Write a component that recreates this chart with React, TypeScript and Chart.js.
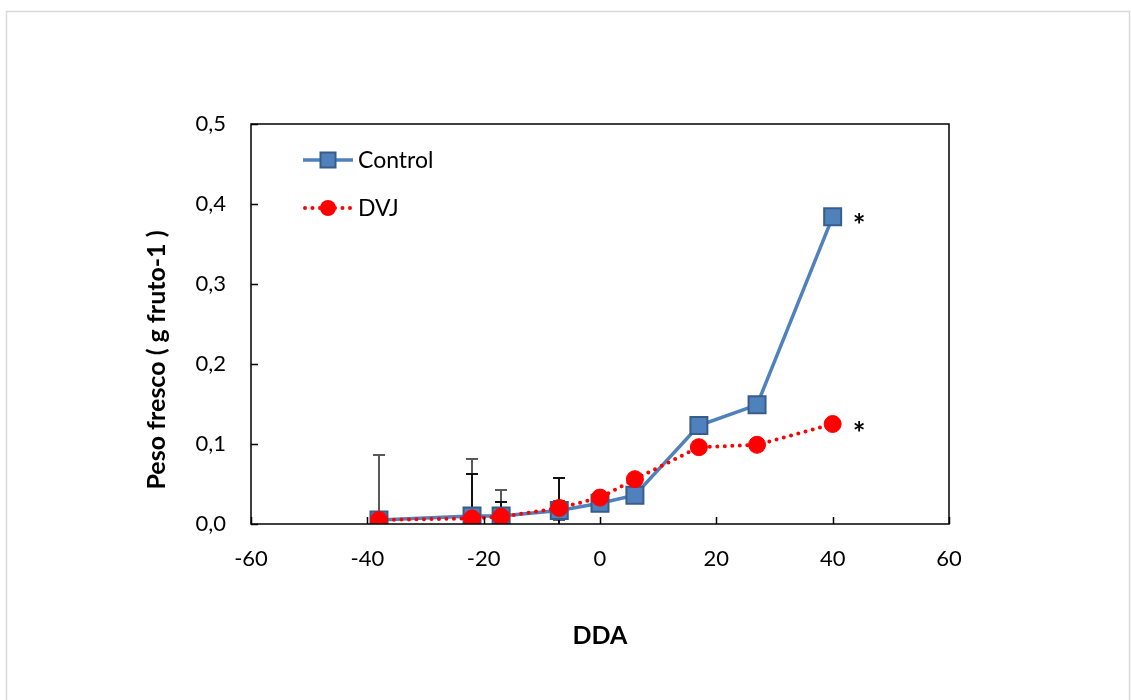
import React, { useEffect, useRef } from "react";
import { Chart, registerables } from "chart.js";

Chart.register(...registerables);

const xDays = [-38, -22, -17, -7, 0, 6, 17, 27, 40];
const controlValues = [0.005, 0.01, 0.01, 0.017, 0.026, 0.036, 0.123, 0.149, 0.384];
const dvjValues = [0.005, 0.007, 0.009, 0.02, 0.033, 0.056, 0.096, 0.099, 0.125];
const controlErrors = [0.081, 0.071, 0.0325, 0.012, 0, 0, 0, 0, 0];
const dvjErrors = [0, 0.055, 0.019, 0.037, 0, 0, 0, 0, 0];
const controlMarks = ["", "", "", "", "", "", "", "", "*"];
const dvjMarks = ["", "", "", "", "", "", "", "", "*"];
const seriesNames = ["Control", "DVJ"];
const xTitle = "DDA";
const yTitle = "Peso fresco ( g fruto-1 )";

const FONT = "Lato, 'Open Sans', sans-serif";
const BLUE = "#4f81bd";
const BLUE_DARK = "#385d8a";
const RED = "#ff0000";

const decorPlugin = {
  id: "decor",
  beforeDatasetsDraw(chart: any) {
    const ctx = chart.ctx;
    const xs = chart.scales.x;
    const ys = chart.scales.y;
    const area = chart.chartArea;
    ctx.save();
    ctx.beginPath();
    ctx.rect(area.left, area.top, area.right - area.left, area.bottom - area.top);
    ctx.clip();
    const drawErr = (vals: number[], errs: number[], color: string) => {
      ctx.strokeStyle = color;
      ctx.lineWidth = 2;
      xDays.forEach((d, i) => {
        const e = errs[i];
        if (!e) return;
        const px = Math.round(xs.getPixelForValue(d));
        const top = Math.round(ys.getPixelForValue(vals[i] + e));
        const bot = Math.round(ys.getPixelForValue(vals[i] - e));
        ctx.beginPath();
        ctx.moveTo(px, top);
        ctx.lineTo(px, bot);
        ctx.moveTo(px - 6, top);
        ctx.lineTo(px + 6, top);
        ctx.moveTo(px - 6, bot);
        ctx.lineTo(px + 6, bot);
        ctx.stroke();
      });
    };
    drawErr(controlValues, controlErrors, "#5a5a5a");
    drawErr(dvjValues, dvjErrors, "#111111");
    ctx.restore();
  },
  afterDraw(chart: any) {
    const ctx = chart.ctx;
    const xs = chart.scales.x;
    const ys = chart.scales.y;
    const area = chart.chartArea;
    ctx.save();
    // outer frame
    ctx.strokeStyle = "#d9d9d9";
    ctx.lineWidth = 1.5;
    ctx.strokeRect(6.5, 11.5, 1123, 720);
    // plot box
    ctx.strokeStyle = "#000";
    ctx.lineWidth = 1.5;
    ctx.strokeRect(area.left, area.top, area.right - area.left, area.bottom - area.top);
    // inside ticks
    ctx.beginPath();
    ys.ticks.forEach((t: any) => {
      const py = Math.round(ys.getPixelForValue(t.value)) + 0.5;
      ctx.moveTo(area.left, py);
      ctx.lineTo(area.left + 7, py);
    });
    xs.ticks.forEach((t: any) => {
      const px = Math.round(xs.getPixelForValue(t.value)) + 0.5;
      ctx.moveTo(px, area.bottom);
      ctx.lineTo(px, area.bottom - 7);
    });
    ctx.stroke();
    // significance marks
    ctx.fillStyle = "#000";
    ctx.font = `bold 30px ${FONT}`;
    ctx.textAlign = "left";
    ctx.textBaseline = "middle";
    const marks = (vals: number[], m: string[]) => {
      m.forEach((s, i) => {
        if (!s) return;
        ctx.fillText(s, xs.getPixelForValue(xDays[i]) + 20, ys.getPixelForValue(vals[i]) + 10);
      });
    };
    marks(controlValues, controlMarks);
    marks(dvjValues, dvjMarks);
    // legend
    const lx0 = 303, lx1 = 353, lmid = 328;
    ctx.strokeStyle = BLUE;
    ctx.lineWidth = 3.5;
    ctx.beginPath();
    ctx.moveTo(lx0, 160);
    ctx.lineTo(lx1, 160);
    ctx.stroke();
    ctx.fillStyle = BLUE;
    ctx.strokeStyle = BLUE_DARK;
    ctx.lineWidth = 2;
    ctx.fillRect(lmid - 7.5, 152.5, 15, 15);
    ctx.strokeRect(lmid - 7.5, 152.5, 15, 15);
    ctx.strokeStyle = RED;
    ctx.lineWidth = 4;
    ctx.lineCap = "round";
    ctx.setLineDash([0, 7.5]);
    ctx.beginPath();
    ctx.moveTo(lx0 + 2, 208);
    ctx.lineTo(lx1, 208);
    ctx.stroke();
    ctx.setLineDash([]);
    ctx.fillStyle = RED;
    ctx.beginPath();
    ctx.arc(lmid, 208, 8, 0, Math.PI * 2);
    ctx.fill();
    ctx.fillStyle = "#000";
    ctx.font = `23px ${FONT}`;
    ctx.textBaseline = "middle";
    ctx.fillText(seriesNames[0], 358, 161);
    ctx.fillText(seriesNames[1], 358, 209);
    // axis titles
    ctx.font = `bold 25px ${FONT}`;
    ctx.textAlign = "center";
    ctx.fillText(xTitle, (area.left + area.right) / 2, 636);
    ctx.translate(157, (area.top + area.bottom) / 2 + 36);
    ctx.rotate(-Math.PI / 2);
    ctx.fillText(yTitle, 0, 0);
    ctx.restore();
  },
};

export default function App() {
  const ref = useRef<HTMLCanvasElement | null>(null);
  useEffect(() => {
    if (!ref.current) return;
    const chart = new Chart(ref.current, {
      type: "line",
      data: {
        datasets: [
          {
            label: seriesNames[0],
            data: xDays.map((d, i) => ({ x: d, y: controlValues[i] })),
            borderColor: BLUE,
            borderWidth: 3.5,
            backgroundColor: BLUE,
            pointStyle: "rect",
            pointRadius: 12,
            pointBackgroundColor: BLUE,
            pointBorderColor: BLUE_DARK,
            pointBorderWidth: 2,
            tension: 0,
            order: 1,
          },
          {
            label: seriesNames[1],
            data: xDays.map((d, i) => ({ x: d, y: dvjValues[i] })),
            borderColor: RED,
            borderWidth: 4,
            borderDash: [0, 7.5],
            borderCapStyle: "round",
            backgroundColor: RED,
            pointStyle: "circle",
            pointRadius: 8.5,
            pointBackgroundColor: RED,
            pointBorderColor: RED,
            pointBorderWidth: 1,
            tension: 0,
            order: 0,
          },
        ],
      },
      options: {
        animation: false,
        responsive: false,
        maintainAspectRatio: false,
        layout: { padding: { left: 0, top: 124, right: 182, bottom: 0 } },
        plugins: { legend: { display: false }, tooltip: { enabled: false } },
        scales: {
          x: {
            type: "linear",
            min: -60,
            max: 60,
            grid: { display: false },
            border: { display: false },
            ticks: {
              stepSize: 20,
              padding: 14,
              color: "#000",
              font: { family: FONT, size: 22 },
              callback: (v: any) => String(v),
            },
            afterFit: (s: any) => {
              s.height = 176;
            },
          },
          y: {
            min: 0,
            max: 0.5,
            grid: { display: false },
            border: { display: false },
            ticks: {
              stepSize: 0.1,
              padding: 17,
              color: "#000",
              font: { family: FONT, size: 22 },
              callback: (v: any) => Number(v).toFixed(1).replace(".", ","),
            },
            afterFit: (s: any) => {
              s.width = 251;
            },
          },
        },
      },
      plugins: [decorPlugin],
    } as any);
    return () => chart.destroy();
  }, []);
  return (
    <div style={{ position: "fixed", left: 0, top: 0, width: 1131, height: 700, background: "#fff" }}>
      <canvas ref={ref} width={1131} height={700} style={{ width: 1131, height: 700, display: "block" }} />
    </div>
  );
}
